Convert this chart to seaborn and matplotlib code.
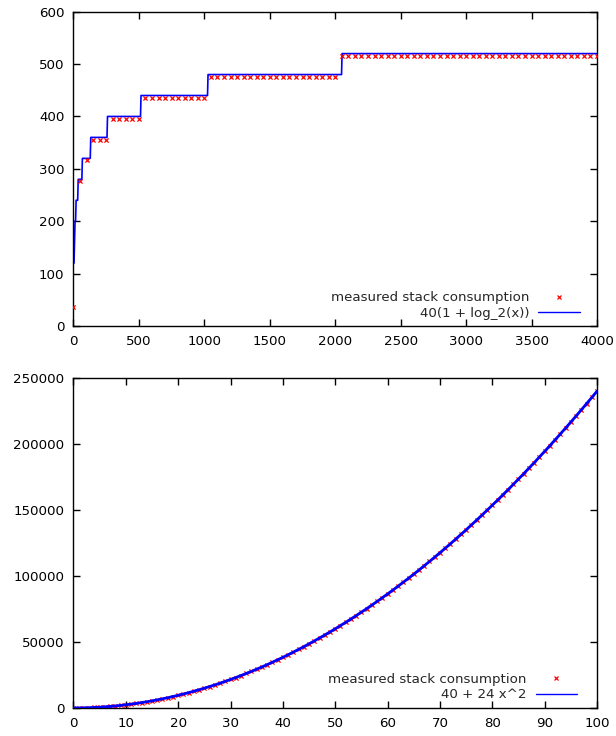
import numpy as np
import pandas as pd
import matplotlib
matplotlib.use("Agg")
import matplotlib.pyplot as plt
import seaborn as sns

# ---- data ----
top_x = list(range(0, 4001, 50))
top_measured = ([36] + [276] + [316] + [356] * 3 + [396] * 5 + [436] * 10
                + [476] * 20 + [516] * 40)
top_label_pts = "measured stack consumption"
top_label_fn = "40(1 + log_2(x))"
top_xticks = [0, 500, 1000, 1500, 2000, 2500, 3000, 3500, 4000]
top_yticks = [0, 100, 200, 300, 400, 500, 600]

bot_x = list(range(0, 101))
bot_measured = [
    40, 64, 136, 256, 424, 640, 904, 1216, 1576, 1984, 2440,
    2944, 3496, 4096, 4744, 5440, 6184, 6976, 7816, 8704, 9640,
    10624, 11656, 12736, 13864, 15040, 16264, 17536, 18856, 20224, 21640,
    23104, 24616, 26176, 27784, 29440, 31144, 32896, 34696, 36544, 38440,
    40384, 42376, 44416, 46504, 48640, 50824, 53056, 55336, 57664, 60040,
    62464, 64936, 67456, 70024, 72640, 75304, 78016, 80776, 83584, 86440,
    89344, 92296, 95296, 98344, 101440, 104584, 107776, 111016, 114304, 117640,
    121024, 124456, 127936, 131464, 135040, 138664, 142336, 146056, 149824, 153640,
    157504, 161416, 165376, 169384, 173440, 177544, 181696, 185896, 190144, 194440,
    198784, 203176, 207616, 212104, 216640, 221224, 225856, 230536, 235264, 240040,
]
bot_label_pts = "measured stack consumption"
bot_label_fn = "40 + 24 x^2"
bot_xticks = [0, 10, 20, 30, 40, 50, 60, 70, 80, 90, 100]
bot_yticks = [0, 50000, 100000, 150000, 200000, 250000]

# function curves from the legend formulas
fx_top = np.linspace(0, 4000, 1001)[1:]
fy_top = 40 * (1 + np.ceil(np.log2(fx_top)))
fx_bot = np.linspace(0, 100, 501)
fy_bot = 40 + 24 * fx_bot ** 2

FS = 9.6

sns.set_theme(style="ticks")
plt.rcParams["font.family"] = ["DejaVu Sans"]
plt.rcParams["font.size"] = FS

fig = plt.figure(figsize=(6.16, 7.36), dpi=100)
ax1 = fig.add_axes([0.1193, 0.5571, 0.8499, 0.4270])
ax2 = fig.add_axes([0.1193, 0.0380, 0.8499, 0.4484])


def style_axes(ax, xt, yt, xlim, ylim):
    ax.set_xlim(*xlim)
    ax.set_ylim(*ylim)
    ax.set_xticks(xt)
    ax.set_yticks(yt)
    ax.tick_params(direction="in", length=5, width=1, top=True, right=True,
                   labelsize=FS, colors="black", pad=6.5)
    for s in ax.spines.values():
        s.set_visible(True)
        s.set_color("black")
        s.set_linewidth(1)
    ax.set_xlabel("")
    ax.set_ylabel("")


def right_legend(ax, handles, labels, bbox):
    leg = ax.legend(handles, labels, loc="lower right", bbox_to_anchor=bbox,
                    frameon=False, markerfirst=False, fontsize=FS,
                    handlelength=3.1, handletextpad=0.68, labelspacing=0.18,
                    borderaxespad=0, borderpad=0)
    for col in leg._legend_handle_box.get_children():
        col.align = "right"
    return leg


# top panel
sns.lineplot(x=fx_top, y=fy_top, ax=ax1, color="blue", lw=1.2,
             sort=False, zorder=2)
sns.scatterplot(x=top_x, y=top_measured, ax=ax1, marker="x", color="red",
                s=9, linewidth=0.9, zorder=3)
style_axes(ax1, top_xticks, top_yticks, (0, 4000), (0, 600))
h_pts = plt.Line2D([], [], ls="none", marker="x", color="red", ms=3.2, mew=0.9)
h_fn = plt.Line2D([], [], color="blue", lw=1.0)
right_legend(ax1, [h_pts, h_fn], [top_label_pts, top_label_fn], (0.967, 0.02))

# bottom panel
sns.scatterplot(x=bot_x, y=bot_measured, ax=ax2, marker="x", color="red",
                s=9, linewidth=0.9, zorder=2)
sns.lineplot(x=fx_bot, y=fy_bot, ax=ax2, color="blue", lw=2.0, zorder=3)
style_axes(ax2, bot_xticks, bot_yticks, (0, 100), (0, 250000))
ax2.ticklabel_format(style="plain", axis="y")
h_pts2 = plt.Line2D([], [], ls="none", marker="x", color="red", ms=3.2, mew=0.9)
h_fn2 = plt.Line2D([], [], color="blue", lw=1.0)
right_legend(ax2, [h_pts2, h_fn2], [bot_label_pts, bot_label_fn], (0.962, 0.02))

fig.savefig("out.png", dpi=100)
